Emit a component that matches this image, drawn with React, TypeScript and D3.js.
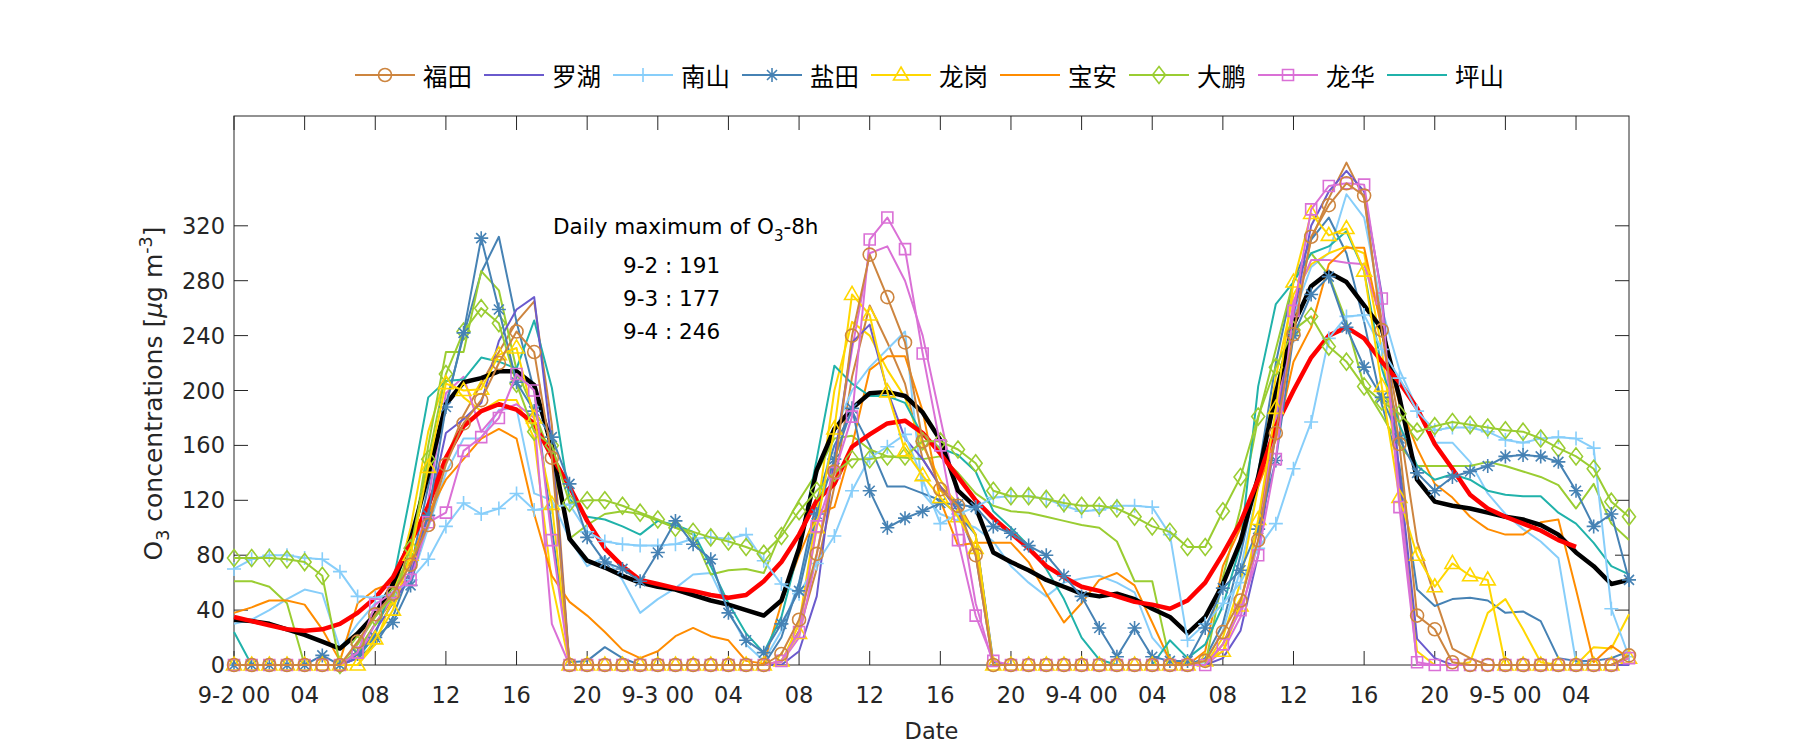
import React from "react";
import * as d3 from "d3";

const W = 1800;
const H = 750;

// ---------- data (hourly, 9-2 00 .. 9-5 07) ----------
const hours = [
  0, 1, 2, 3, 4, 5, 6, 7, 8, 9, 10, 11, 12, 13, 14, 15, 16, 17, 18, 19, 20, 21, 22, 23,
  24, 25, 26, 27, 28, 29, 30, 31, 32, 33, 34, 35, 36, 37, 38, 39, 40, 41, 42, 43, 44, 45, 46, 47,
  48, 49, 50, 51, 52, 53, 54, 55, 56, 57, 58, 59, 60, 61, 62, 63, 64, 65, 66, 67, 68, 69, 70, 71,
  72, 73, 74, 75, 76, 77, 78, 79,
];

const futianA = [
  0, 0, 0, 0, 0, 0, 0, 17, 37, 52, 73, 102, 146, 176, 193, 220,
  243, 228, 151, 0, 0, 0, 0, 0, 0, 0, 0, 0, 0, 0, 0, 8,
  33, 81, 141, 240, 299, 268, 235, 163, 128, 116, 80, 0, 0, 0, 0, 0,
  0, 0, 0, 0, 0, 0, 0, 3, 24, 47, 91, 169, 241, 312, 335, 351,
  342, 244, 161, 36, 26, 2, 0, 0, 0, 0, 0, 0, 0, 0, 0, 7,
];
const futianB = [
  0, 0, 0, 0, 0, 0, 0, 10, 30, 48, 68, 105, 150, 182, 205, 228,
  250, 265, 175, 0, 0, 0, 0, 0, 0, 0, 0, 0, 0, 0, 0, 3,
  25, 70, 130, 210, 262, 235, 205, 150, 130, 118, 95, 0, 0, 0, 0, 0,
  0, 0, 0, 0, 0, 0, 0, 0, 15, 45, 100, 180, 250, 310, 340, 366,
  340, 250, 175, 90, 50, 12, 5, 0, 0, 0, 0, 0, 0, 0, 0, 5,
];
const luohu = [
  0, 0, 0, 0, 0, 0, 0, 5, 25, 45, 65, 110, 169, 179, 191, 236,
  259, 268, 160, 0, 0, 0, 0, 0, 0, 0, 0, 0, 0, 0, 0, 0,
  10, 50, 150, 235, 248, 200, 165, 150, 130, 112, 80, 0, 0, 0, 0, 0,
  0, 0, 0, 0, 0, 0, 0, 0, 5, 25, 80, 170, 255, 320, 345, 360,
  345, 270, 140, 19, 5, 0, 0, 0, 0, 0, 0, 0, 0, 0, 0, 0,
];
const nanshanA = [
  70, 77, 80, 80, 78, 77, 68, 50, 49, 52, 62, 77, 101, 118, 110, 114,
  125, 113, 115, 117, 97, 90, 88, 87, 87, 88, 92, 93, 92, 95, 76, 59,
  52, 74, 94, 127, 151, 159, 168, 135, 103, 110, 115, 122, 123, 123, 121, 116,
  112, 113, 116, 116, 115, 95, 18, 30, 45, 60, 85, 103, 143, 177, 238, 254,
  255, 230, 209, 185, 171, 173, 173, 170, 164, 162, 165, 166, 165, 158, 41, 6,
];
const nanshanB = [
  30, 33, 40, 48, 55, 52, 12, 30, 45, 50, 60, 100, 140, 165, 165, 186,
  187, 125, 120, 92, 72, 79, 62, 38, 48, 56, 66, 67, 40, 15, 3, 25,
  60, 110, 170, 200, 217, 230, 243, 125, 110, 105, 100, 90, 72, 60, 50, 60,
  63, 65, 60, 53, 20, 5, 0, 2, 25, 70, 130, 200, 255, 290, 300, 343,
  326, 260, 215, 187, 162, 162, 148, 125, 110, 99, 90, 78, 2, 0, 0, 0,
];
const yantianA = [
  0, 0, 0, 0, 0, 7, 0, 8, 20, 31, 58, 109, 188, 242, 311, 259,
  206, 185, 166, 132, 93, 75, 70, 61, 82, 105, 88, 77, 38, 18, 9, 30,
  54, 110, 150, 187, 127, 100, 107, 112, 118, 117, 115, 101, 96, 87, 80, 65,
  50, 27, 6, 27, 6, 3, 3, 27, 56, 69, 99, 149, 240, 270, 283, 246,
  217, 195, 165, 140, 127, 137, 141, 145, 152, 153, 152, 148, 127, 101, 110, 62,
];
const yantianB = [
  0, 0, 0, 0, 0, 0, 0, 5, 15, 35, 70, 130, 190, 240, 286, 312,
  250, 200, 100, 2, 3, 13, 5, 0, 0, 0, 0, 0, 0, 0, 0, 20,
  60, 120, 160, 185, 160, 130, 130, 125, 120, 110, 95, 2, 0, 0, 0, 0,
  0, 0, 0, 0, 0, 0, 0, 5, 30, 80, 140, 220, 280, 310, 326, 300,
  250, 190, 145, 55, 43, 48, 49, 47, 38, 39, 32, 5, 3, 3, 5, 10,
];
const longgangA = [
  0, 0, 0, 0, 0, 0, 0, 0, 19, 40, 80, 144, 205, 200, 201, 226,
  231, 180, 117, 0, 0, 0, 0, 0, 0, 0, 0, 0, 0, 0, 0, 3,
  23, 100, 172, 270, 255, 199, 156, 138, 122, 108, 85, 0, 0, 0, 0, 0,
  0, 0, 0, 0, 0, 0, 0, 3, 10, 43, 106, 187, 279, 329, 313, 318,
  287, 203, 122, 80, 57, 74, 65, 62, 0, 0, 0, 0, 0, 0, 0, 5,
];
const longgangB = [
  0, 0, 0, 0, 0, 0, 0, 0, 15, 50, 100, 170, 210, 195, 185, 193,
  193, 165, 60, 0, 0, 0, 0, 0, 0, 0, 0, 0, 0, 0, 0, 2,
  30, 110, 200, 250, 240, 215, 195, 160, 135, 115, 95, 0, 0, 0, 0, 0,
  0, 0, 0, 0, 0, 0, 0, 0, 20, 60, 130, 210, 270, 292, 300, 305,
  300, 230, 130, 10, 0, 0, 2, 38, 48, 26, 2, 0, 0, 13, 12, 37,
];
const baoan = [
  38, 42, 47, 47, 44, 26, 3, 45, 55, 60, 75, 110, 135, 150, 165, 172,
  165, 110, 65, 46, 36, 24, 11, 5, 10, 21, 27, 21, 18, 3, 1, 45,
  80, 110, 115, 160, 215, 225, 225, 185, 120, 87, 89, 89, 89, 75, 52, 31,
  45, 62, 67, 58, 31, 3, 0, 10, 72, 100, 130, 164, 221, 246, 292, 304,
  304, 245, 190, 158, 132, 122, 108, 99, 95, 95, 104, 106, 55, 2, 14, 5,
];
const dapengA = [
  78, 78, 78, 77, 75, 65, 0, 15, 35, 50, 85, 150, 212, 243, 260, 249,
  205, 170, 160, 118, 120, 120, 116, 111, 106, 100, 97, 93, 90, 86, 81, 94,
  112, 127, 140, 150, 150, 152, 152, 163, 163, 157, 147, 127, 123, 123, 121, 118,
  116, 116, 114, 108, 101, 97, 86, 86, 112, 137, 181, 217, 244, 254, 232, 221,
  203, 192, 183, 170, 174, 177, 175, 173, 171, 170, 165, 158, 152, 143, 119, 108,
];
const dapengB = [
  61, 61, 57, 45, 0, 0, 0, 10, 30, 50, 80, 160, 228, 228, 287, 273,
  215, 185, 150, 92, 102, 110, 112, 110, 105, 100, 95, 66, 69, 70, 67, 97,
  120, 140, 165, 167, 157, 152, 151, 150, 152, 140, 125, 116, 112, 111, 108, 105,
  102, 100, 90, 61, 61, 3, 0, 0, 64, 114, 180, 230, 280, 300, 284, 250,
  203, 182, 160, 145, 145, 145, 145, 148, 145, 141, 137, 131, 114, 132, 103, 91,
];
const longhuaA = [
  0, 0, 0, 0, 0, 0, 0, 9, 44, 53, 62, 104, 111, 156, 166, 180,
  212, 200, 91, 0, 0, 0, 0, 0, 0, 0, 0, 0, 0, 0, 0, 3,
  24, 101, 140, 181, 310, 326, 303, 227, 160, 91, 36, 3, 0, 0, 0, 0,
  0, 0, 0, 0, 0, 0, 0, 0, 15, 40, 80, 150, 258, 332, 349, 351,
  350, 267, 115, 2, 0, 0, 0, 0, 0, 0, 0, 0, 0, 0, 0, 5,
];
const longhuaB = [
  0, 0, 0, 0, 0, 0, 0, 5, 30, 50, 65, 120, 198, 210, 170, 185,
  190, 180, 30, 0, 0, 0, 0, 0, 0, 0, 0, 0, 0, 0, 0, 2,
  20, 80, 150, 230, 300, 305, 280, 240, 180, 120, 45, 0, 0, 0, 0, 0,
  0, 0, 0, 0, 0, 0, 0, 0, 10, 35, 90, 180, 265, 295, 295, 293,
  292, 250, 130, 0, 0, 0, 0, 0, 0, 0, 0, 0, 0, 0, 0, 0,
];
const pingshan = [
  24, 0, 0, 0, 0, 0, 0, 5, 22, 60, 125, 195, 207, 208, 224, 221,
  216, 251, 202, 121, 108, 106, 101, 95, 105, 102, 97, 72, 45, 23, 9, 35,
  85, 150, 218, 205, 196, 196, 191, 167, 158, 153, 141, 112, 100, 87, 70, 48,
  20, 4, 0, 0, 0, 18, 5, 15, 43, 87, 203, 263, 279, 300, 305, 316,
  287, 216, 175, 145, 135, 139, 135, 127, 124, 123, 123, 111, 103, 89, 72, 66,
];
const meanLine = [
  33, 32, 30, 26, 22, 17, 12, 23, 37, 59, 91, 139, 190, 206, 209, 214,
  214, 204, 159, 92, 76, 71, 65, 60, 57, 55, 51, 47, 44, 40, 36, 47,
  85, 142, 172, 187, 198, 199, 196, 184, 164, 127, 115, 82, 75, 69, 62, 57,
  52, 50, 52, 48, 41, 35, 23, 35, 59, 90, 137, 198, 248, 276, 286, 279,
  262, 245, 195, 135, 119, 116, 114, 111, 108, 106, 102, 95, 82, 72, 59, 62,
];
const smoothLine = [
  35, 32, 29, 26, 25, 26, 30, 38, 49, 64, 89, 116, 151, 174, 185, 190,
  186, 176, 152, 130, 105, 85, 72, 62, 59, 56, 54, 51, 49, 51, 61, 75,
  95, 120, 132, 159, 168, 176, 178, 169, 154, 137, 120, 107, 96, 85, 72, 64,
  57, 54, 50, 46, 44, 41, 47, 60, 81, 104, 135, 174, 200, 224, 240, 246,
  238, 221, 206, 187, 161, 143, 124, 114, 108, 103, 98, 91, 86, null, null, null,
];

const xTickHours = [0, 4, 8, 12, 16, 20, 24, 28, 32, 36, 40, 44, 48, 52, 56, 60, 64, 68, 72, 76];
const xTickLabels = [
  "9-2 00", "04", "08", "12", "16", "20", "9-3 00", "04", "08", "12", "16", "20",
  "9-4 00", "04", "08", "12", "16", "20", "9-5 00", "04",
];
const yTicks = [0, 40, 80, 120, 160, 200, 240, 280, 320];
const dailyMax = ["9-2 : 191", "9-3 : 177", "9-4 : 246"];

const C = {
  futian: "#CD853F",
  luohu: "#6A5ACD",
  nanshan: "#87CEFA",
  yantian: "#4682B4",
  longgang: "#FFD700",
  baoan: "#FF8C00",
  dapeng: "#9ACD32",
  longhua: "#DA70D6",
  pingshan: "#20B2AA",
};

type Marker = "none" | "o" | "+" | "*" | "^" | "d" | "s";

const legendItems: { name: string; color: string; marker: Marker }[] = [
  { name: "福田", color: C.futian, marker: "o" },
  { name: "罗湖", color: C.luohu, marker: "none" },
  { name: "南山", color: C.nanshan, marker: "+" },
  { name: "盐田", color: C.yantian, marker: "*" },
  { name: "龙岗", color: C.longgang, marker: "^" },
  { name: "宝安", color: C.baoan, marker: "none" },
  { name: "大鹏", color: C.dapeng, marker: "d" },
  { name: "龙华", color: C.longhua, marker: "s" },
  { name: "坪山", color: C.pingshan, marker: "none" },
];

const plainSeries = [
  { data: futianB, color: C.futian },
  { data: nanshanB, color: C.nanshan },
  { data: yantianB, color: C.yantian },
  { data: longgangB, color: C.longgang },
  { data: dapengB, color: C.dapeng },
  { data: longhuaB, color: C.longhua },
  { data: baoan, color: C.baoan },
  { data: pingshan, color: C.pingshan },
  { data: luohu, color: C.luohu },
];
const markedSeries: { data: (number | null)[]; color: string; marker: Marker }[] = [
  { data: nanshanA, color: C.nanshan, marker: "+" },
  { data: dapengA, color: C.dapeng, marker: "d" },
  { data: yantianA, color: C.yantian, marker: "*" },
  { data: longgangA, color: C.longgang, marker: "^" },
  { data: longhuaA, color: C.longhua, marker: "s" },
  { data: futianA, color: C.futian, marker: "o" },
];

const FONT = "'DejaVu Sans', sans-serif";
const CJK = "'Noto Sans CJK SC', sans-serif";

function markerPath(m: Marker, cx: number, cy: number): string {
  switch (m) {
    case "o":
      return `M${cx + 6.5},${cy} A6.5,6.5 0 1,1 ${cx - 6.5},${cy} A6.5,6.5 0 1,1 ${cx + 6.5},${cy}Z`;
    case "+":
      return `M${cx - 7},${cy}H${cx + 7}M${cx},${cy - 7}V${cy + 7}`;
    case "*": {
      const a = 7, b = 5;
      return `M${cx - a},${cy}H${cx + a}M${cx},${cy - a}V${cy + a}M${cx - b},${cy - b}L${cx + b},${cy + b}M${cx - b},${cy + b}L${cx + b},${cy - b}`;
    }
    case "^":
      return `M${cx},${cy - 8}L${cx + 7.5},${cy + 5}L${cx - 7.5},${cy + 5}Z`;
    case "d":
      return `M${cx},${cy - 8.5}L${cx + 6.5},${cy}L${cx},${cy + 8.5}L${cx - 6.5},${cy}Z`;
    case "s":
      return `M${cx - 5.5},${cy - 5.5}H${cx + 5.5}V${cy + 5.5}H${cx - 5.5}Z`;
    default:
      return "";
  }
}

export default function App() {
  const left = 234, right = 1629, top = 116, bottom = 665;
  const x = d3.scaleLinear().domain([0, 79]).range([left, right]);
  const y = d3.scaleLinear().domain([0, 400]).range([bottom, top]);
  const line = d3
    .line<number | null>()
    .defined((d) => d !== null && d !== undefined)
    .x((_, i) => x(hours[i]))
    .y((d) => y(d as number));

  const axisColor = "#262626";
  const legendStart = 355;
  const legendStep = 129;
  const legendY = 75;

  return (
    <svg
      width={W}
      height={H}
      style={{ display: "block", background: "#fff", position: "absolute", left: 0, top: 0 }}
    >
      <rect x={left} y={top} width={right - left} height={bottom - top} fill="none" stroke={axisColor} strokeWidth={1} />
      {xTickHours.map((h, i) => (
        <g key={"xt" + i}>
          <line x1={x(h)} x2={x(h)} y1={bottom} y2={bottom - 14} stroke={axisColor} />
          <line x1={x(h)} x2={x(h)} y1={top} y2={top + 14} stroke={axisColor} />
          <text x={x(h)} y={bottom + 38} fontSize={22.5} fontFamily={FONT} fill={axisColor} textAnchor="middle">
            {xTickLabels[i]}
          </text>
        </g>
      ))}
      {yTicks.map((v) => (
        <g key={"yt" + v}>
          <line x1={left} x2={left + 14} y1={y(v)} y2={y(v)} stroke={axisColor} />
          <line x1={right} x2={right - 14} y1={y(v)} y2={y(v)} stroke={axisColor} />
          <text x={left - 9} y={y(v)} fontSize={22.5} fontFamily={FONT} fill={axisColor} textAnchor="end" dominantBaseline="central">
            {v}
          </text>
        </g>
      ))}
      <text x={(left + right) / 2} y={739} fontSize={22.5} fontFamily={FONT} fill={axisColor} textAnchor="middle">
        Date
      </text>
      <text transform={`translate(162,${(top + bottom) / 2 + 3}) rotate(-90)`} fontSize={25} fontFamily={FONT} fill={axisColor} textAnchor="middle">
        O<tspan fontSize={17.5} dy={7}>3</tspan>
        <tspan dy={-7}> concentrations [</tspan>
        <tspan fontStyle="italic">μ</tspan>
        <tspan>g m</tspan>
        <tspan fontSize={17.5} dy={-10}>-3</tspan>
        <tspan dy={10}>]</tspan>
      </text>

      {plainSeries.map((s, i) => (
        <path key={"p" + i} d={line(s.data) || ""} fill="none" stroke={s.color} strokeWidth={2} strokeLinejoin="round" />
      ))}
      <path d={line(meanLine) || ""} fill="none" stroke="#000" strokeWidth={4.5} strokeLinejoin="round" />
      <path d={line(smoothLine) || ""} fill="none" stroke="#FF0000" strokeWidth={4.5} strokeLinejoin="round" />
      {markedSeries.map((s, i) => (
        <g key={"m" + i}>
          <path d={line(s.data) || ""} fill="none" stroke={s.color} strokeWidth={2} strokeLinejoin="round" />
          <path
            d={s.data.map((v, j) => (v === null ? "" : markerPath(s.marker, x(hours[j]), y(v)))).join("")}
            fill="none"
            stroke={s.color}
            strokeWidth={1.6}
          />
        </g>
      ))}

      <text x={553} y={234} fontSize={21.5} fontFamily={FONT} fill="#000">
        Daily maximum of O<tspan fontSize={15} dy={7}>3</tspan>
        <tspan dy={-7}>-8h</tspan>
      </text>
      {dailyMax.map((t, i) => (
        <text key={t} x={623} y={273 + i * 33} fontSize={21.5} fontFamily={FONT} fill="#000">
          {t}
        </text>
      ))}

      {legendItems.map((it, i) => {
        const x0 = legendStart + i * legendStep;
        return (
          <g key={it.name}>
            <line x1={x0} x2={x0 + 60} y1={legendY} y2={legendY} stroke={it.color} strokeWidth={2} />
            {it.marker !== "none" && (
              <path d={markerPath(it.marker, x0 + 30, legendY)} fill="none" stroke={it.color} strokeWidth={1.6} />
            )}
            <text x={x0 + 68} y={legendY} fontSize={24.5} fontFamily={CJK} fill="#000" dominantBaseline="central">
              {it.name}
            </text>
          </g>
        );
      })}
    </svg>
  );
}
